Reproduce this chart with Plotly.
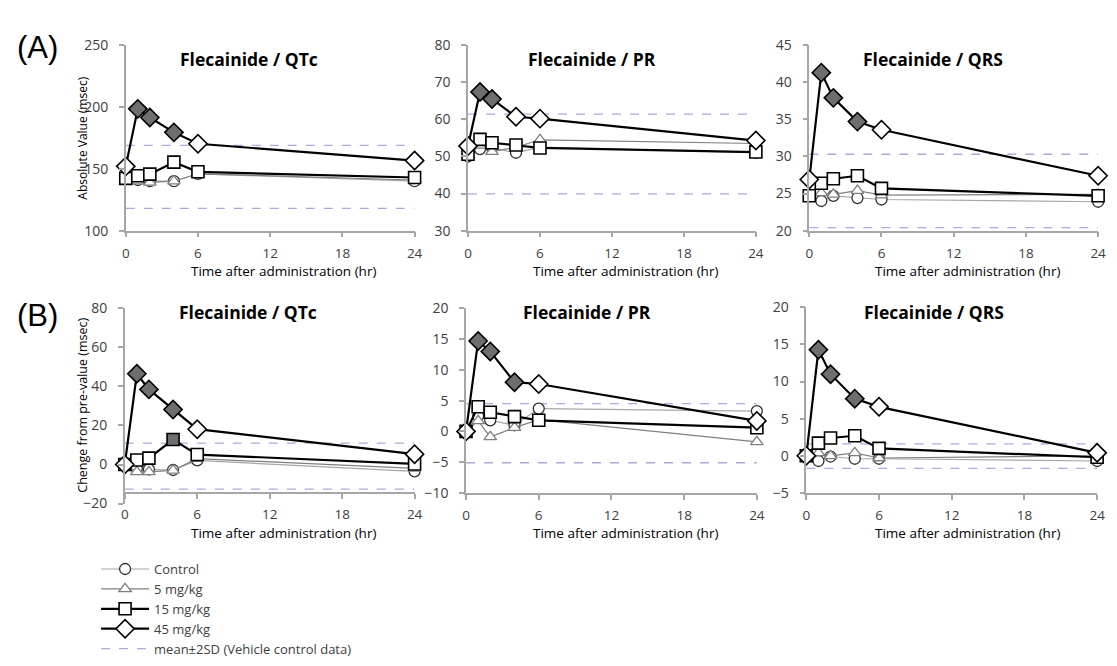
import plotly.graph_objects as go

# ---------------- data ----------------
time_hr = [0, 1, 2, 4, 6, 24]
x_ticks = [0, 6, 12, 18, 24]

series_names = ["Control", "5 mg/kg", "15 mg/kg", "45 mg/kg"]
sd_name = "mean±2SD (Vehicle control data)"

panel_titles = ["Flecainide / QTc", "Flecainide / PR", "Flecainide / QRS",
                "Flecainide / QTc", "Flecainide / PR", "Flecainide / QRS"]

# (A) absolute values
a_qtc_ctrl = [142, 141, 140, 140, 146, 140]
a_qtc_5 = [142, 140, 139, 140, 146, 141]
a_qtc_15 = [142.3, 144.4, 145.7, 155.4, 147.6, 143]
a_qtc_45 = [152, 198.5, 191.5, 179.5, 170.3, 156.7]
a_qtc_sd = [169, 118]

a_pr_ctrl = [50.0, 52.0, 52.3, 51.0, 52.5, 51.0]
a_pr_5 = [50.5, 53.0, 51.3, 52.5, 54.5, 53.5]
a_pr_15 = [50.6, 54.6, 53.7, 53.1, 52.3, 51.2]
a_pr_45 = [52.8, 67.4, 65.5, 60.7, 60.2, 54.3]
a_pr_sd = [61.4, 39.9]

a_qrs_ctrl = [24.7, 24.0, 24.7, 24.4, 24.2, 23.9]
a_qrs_5 = [24.7, 25.1, 24.9, 25.4, 24.8, 24.9]
a_qrs_15 = [24.7, 26.4, 27.0, 27.4, 25.7, 24.7]
a_qrs_45 = [26.9, 41.3, 37.9, 34.7, 33.6, 27.4]
a_qrs_sd = [30.3, 20.4]

# (B) change from pre-value
b_qtc_ctrl = [0, -2.0, -2.5, -2.8, 2.1, -3.5]
b_qtc_5 = [0, -3.8, -3.8, -3.0, 3.0, -2.0]
b_qtc_15 = [0, 2.3, 3.3, 12.8, 5.1, 0.3]
b_qtc_45 = [0, 46.5, 38.5, 28.2, 18.1, 5.3]
b_qtc_sd = [11, -12.6]

b_pr_ctrl = [0, 2.5, 1.8, 1.0, 3.7, 3.3]
b_pr_5 = [0, 1.7, -0.9, 0.6, 1.9, -1.7]
b_pr_15 = [0, 4.0, 3.1, 2.4, 1.8, 0.6]
b_pr_45 = [0, 14.7, 13.0, 8.0, 7.7, 1.7]
b_pr_sd = [4.5, -5.1]

b_qrs_ctrl = [0, -0.7, -0.1, -0.4, -0.4, -0.7]
b_qrs_5 = [0, 0.4, 0.0, 0.4, -0.3, 0.0]
b_qrs_15 = [0, 1.7, 2.4, 2.7, 1.0, -0.2]
b_qrs_45 = [0, 14.3, 11.0, 7.7, 6.6, 0.4]
b_qrs_sd = [1.6, -1.7]

# significance flags (filled markers)
no_sig = [False] * 6
sig_45_a_qtc = [False, True, True, True, False, False]
sig_45_a_pr = [False, True, True, False, False, False]
sig_45_a_qrs = [False, True, True, True, False, False]
sig_45_b = [False, True, True, True, False, False]
sig_15_b_qtc = [False, False, False, True, False, False]

y_ranges = [[100, 250], [30, 80], [20, 45], [-20, 80], [-10, 20], [-5, 20]]
y_dticks = [50, 10, 5, 20, 5, 5]

panels = [
    dict(data=[a_qtc_ctrl, a_qtc_5, a_qtc_15, a_qtc_45], sd=a_qtc_sd,
         sig=[no_sig, no_sig, no_sig, sig_45_a_qtc]),
    dict(data=[a_pr_ctrl, a_pr_5, a_pr_15, a_pr_45], sd=a_pr_sd,
         sig=[no_sig, no_sig, no_sig, sig_45_a_pr]),
    dict(data=[a_qrs_ctrl, a_qrs_5, a_qrs_15, a_qrs_45], sd=a_qrs_sd,
         sig=[no_sig, no_sig, no_sig, sig_45_a_qrs]),
    dict(data=[b_qtc_ctrl, b_qtc_5, b_qtc_15, b_qtc_45], sd=b_qtc_sd,
         sig=[no_sig, no_sig, sig_15_b_qtc, sig_45_b]),
    dict(data=[b_pr_ctrl, b_pr_5, b_pr_15, b_pr_45], sd=b_pr_sd,
         sig=[no_sig, no_sig, no_sig, sig_45_b]),
    dict(data=[b_qrs_ctrl, b_qrs_5, b_qrs_15, b_qrs_45], sd=b_qrs_sd,
         sig=[no_sig, no_sig, no_sig, sig_45_b]),
]

# ---------------- layout geometry (page pixels) ----------------
OFF = 8                 # default body margin of the html page
W, H = 1117 - OFF, 666 - OFF
FONT = "Open Sans"
px_x = [(123, 415), (469, 760), (814, 1106), (122, 415), (467, 761), (811, 1105)]
px_y = [(36, 227), (36, 227), (36, 227), (307, 508), (307, 497), (306, 497)]
xaxis_line_px = [None, None, None, 497, None, None]
title_px = [(248, 50), (594, 50), (939, 50), (247, 311), (589, 311), (940, 311)]
xtitle_px = [(282, 269), (628, 269), (974, 269), (282, 538), (628, 538), (974, 538)]

def fx(p):
    return (p - OFF) / W

def fy(p):
    return 1 - (p - OFF) / H

styles = [
    dict(symbol="circle", size=11, line_color="#a6a6a6", line_width=1.2,
         mline="#303030", mline_w=1.3),
    dict(symbol="triangle-up", size=11, line_color="#7f7f7f", line_width=1.2,
         mline="#7f7f7f", mline_w=1.3),
    dict(symbol="square", size=12, line_color="#000000", line_width=2.2,
         mline="#000000", mline_w=1.6),
    dict(symbol="diamond", size=14, line_color="#000000", line_width=2.2,
         mline="#000000", mline_w=1.6),
]

fig = go.Figure()
annotations = []
layout_axes = {}

for i, p in enumerate(panels):
    n = i + 1
    xa = "x" if n == 1 else f"x{n}"
    ya = "y" if n == 1 else f"y{n}"
    hi, lo = p["sd"]
    fig.add_trace(go.Scatter(
        x=[x_ticks[0], x_ticks[-1], None, x_ticks[0], x_ticks[-1]],
        y=[hi, hi, None, lo, lo], mode="lines",
        line=dict(color="#b4a7d6", width=1.3, dash="dash"),
        name=sd_name, legendgroup="sd", showlegend=False,
        xaxis=xa, yaxis=ya, hoverinfo="skip"))
    for j, (vals, st) in enumerate(zip(p["data"], styles)):
        fills = ["#6e6e6e" if s else "#ffffff" for s in p["sig"][j]]
        fig.add_trace(go.Scatter(
            x=time_hr, y=vals, mode="lines+markers", name=series_names[j],
            legendgroup=series_names[j], showlegend=(i == 0),
            line=dict(color=st["line_color"], width=st["line_width"]),
            marker=dict(symbol=st["symbol"], size=st["size"], color=fills,
                        line=dict(color=st["mline"], width=st["mline_w"])),
            cliponaxis=False, xaxis=xa, yaxis=ya))

    x0, x1 = px_x[i]
    ytop, ybot = px_y[i]
    xkey = "xaxis" if n == 1 else f"xaxis{n}"
    ykey = "yaxis" if n == 1 else f"yaxis{n}"
    xa_dict = dict(domain=[fx(x0), fx(x1)], range=[0, 24], tickvals=x_ticks,
                   showgrid=False, zeroline=False, showline=True,
                   linecolor="#a6a6a6", linewidth=1.5, ticks="outside",
                   ticklen=5, tickcolor="#a6a6a6", tickwidth=1.5,
                   ticklabelstandoff=4,
                   tickfont=dict(family=FONT, size=13.5, color="#404040"),
                   anchor=ya)
    if xaxis_line_px[i] is not None:
        xa_dict["anchor"] = "free"
        xa_dict["position"] = fy(xaxis_line_px[i])
    layout_axes[xkey] = xa_dict
    layout_axes[ykey] = dict(domain=[fy(ybot), fy(ytop)], range=y_ranges[i],
                             dtick=y_dticks[i], tick0=y_ranges[i][0],
                             showgrid=False, zeroline=False, showline=True,
                             linecolor="#a6a6a6", linewidth=1.5,
                             ticks="outside", ticklen=5, tickcolor="#a6a6a6",
                             tickwidth=1.5, ticklabelstandoff=8,
                             tickfont=dict(family=FONT, size=14, color="#404040"),
                             anchor=xa)
    tx, ty = title_px[i]
    annotations.append(dict(text=f"<b>{panel_titles[i]}</b>", x=fx(tx), y=fy(ty),
                            xref="paper", yref="paper", showarrow=False,
                            xanchor="center", yanchor="middle",
                            font=dict(family=FONT, size=17.5, color="#000000")))
    qx, qy = xtitle_px[i]
    annotations.append(dict(text="Time after administration (hr)", x=fx(qx), y=fy(qy),
                            xref="paper", yref="paper", showarrow=False,
                            xanchor="center", yanchor="middle",
                            font=dict(family=FONT, size=13.5, color="#000000")))

# legend entry for the dashed lines
fig.add_trace(go.Scatter(x=[None], y=[None], mode="lines",
                         line=dict(color="#b4a7d6", width=1.3, dash="dash"),
                         name=sd_name, legendgroup="sd", showlegend=True,
                         hoverinfo="skip"))

annotations += [
    dict(text="(A)", x=fx(11), y=fy(38), xref="paper", yref="paper", showarrow=False,
         xanchor="left", yanchor="middle",
         font=dict(family="Liberation Sans", size=31, color="#000")),
    dict(text="(B)", x=fx(11), y=fy(314), xref="paper", yref="paper", showarrow=False,
         xanchor="left", yanchor="middle",
         font=dict(family="Liberation Sans", size=31, color="#000")),
    dict(text="Absolute Value (msec)", x=fx(79), y=fy(132), xref="paper", yref="paper",
         showarrow=False, textangle=-90, xanchor="center", yanchor="middle",
         font=dict(family=FONT, size=12, color="#000")),
    dict(text="Chenge from pre-value (msec)", x=fx(79), y=fy(407), xref="paper", yref="paper",
         showarrow=False, textangle=-90, xanchor="center", yanchor="middle",
         font=dict(family=FONT, size=12.5, color="#000")),
]

fig.update_layout(
    width=W, height=H, margin=dict(l=0, r=0, t=0, b=0),
    paper_bgcolor="#ffffff", plot_bgcolor="#ffffff",
    annotations=annotations,
    showlegend=True,
    legend=dict(x=fx(93), y=fy(560), xanchor="left", yanchor="top",
                font=dict(family=FONT, size=13, color="#404040"),
                bgcolor="rgba(0,0,0,0)", tracegroupgap=0, itemwidth=48,
                traceorder="normal"),
    **layout_axes,
)

fig.write_html("out.html")
